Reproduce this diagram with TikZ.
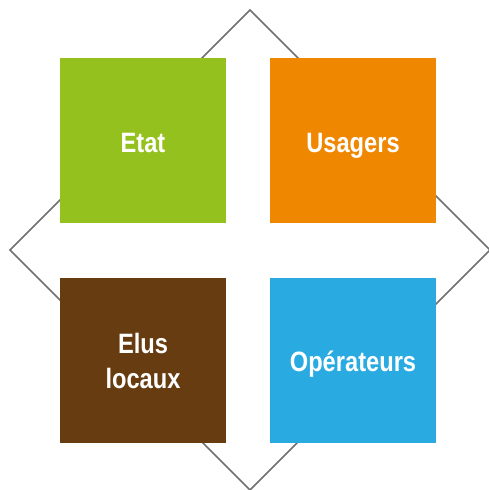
\documentclass[tikz,border=0pt]{standalone}
\usepackage{fontspec}
\setmainfont{Liberation Sans}[FakeStretch=0.845]
\definecolor{cgreen}{HTML}{95C11F}
\definecolor{corange}{HTML}{F08700}
\definecolor{cbrown}{HTML}{683C11}
\definecolor{cblue}{HTML}{29ABE2}
\definecolor{cline}{HTML}{707070}
\begin{document}
\begin{tikzpicture}[x=1pt,y=-1pt,
  tile/.style={minimum width=166pt,minimum height=165pt,inner sep=0pt,
    text=white,font=\fontsize{28}{35}\selectfont\bfseries,align=center}]
\useasboundingbox (0,0) rectangle (489,490);
\coordinate (t) at (250,10);
\coordinate (l) at (10,250);
\coordinate (r) at (490,250);
\coordinate (b) at (250,490);
\draw[cline,line width=1.5pt] (t) -- (r) -- (b) -- (l) -- cycle;
\node[tile,fill=cgreen,text height=23pt,text depth=0pt] (etat) at (143,140.5) {Etat};
\node[tile,fill=corange,text height=23pt,text depth=0pt] (usagers) at (353,140.5) {Usagers};
\node[tile,fill=cbrown] (elus) at (143,360.5) {Elus\\locaux};
\node[tile,fill=cblue,text height=21pt,text depth=0pt] (oper) at (353,360.5) {Opérateurs};
\end{tikzpicture}
\end{document}
